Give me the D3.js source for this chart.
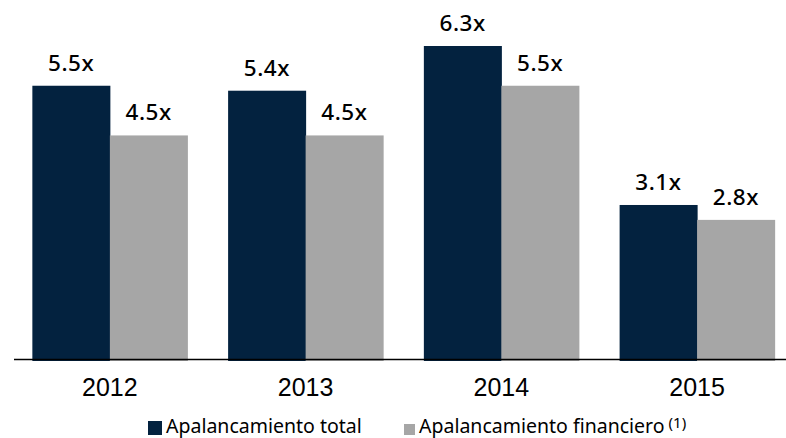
<!DOCTYPE html>
<html><head><meta charset="utf-8">
<script src="https://cdn.jsdelivr.net/npm/d3@7"></script>
<style>html,body{margin:0;padding:0;background:#fff;}svg{display:block;}</style>
</head><body>
<svg id="chart" width="786" height="438"></svg>
<script>
const categories = ["2012", "2013", "2014", "2015"];
const seriesNames = ["Apalancamiento total", "Apalancamiento financiero"];
const totalValues = [5.5, 5.4, 6.3, 3.1];
const financieroValues = [4.5, 4.5, 5.5, 2.8];
const colors = ["#03223f", "#a6a6a6"];

const svg = d3.select("#chart");
const baseY = 359;

const x = d3.scaleBand().domain(categories).range([12, 795]).paddingInner(0.208).paddingOuter(0.104);
const xs = d3.scaleBand().domain([0, 1]).range([0, x.bandwidth()]);
const y = d3.scaleLinear().domain([0, 6.3]).range([baseY, 46]);

const data = categories.map((c, i) => ({cat: c, vals: [totalValues[i], financieroValues[i]]}));

const groups = svg.append("g").selectAll("g.grp").data(data).enter().append("g")
  .attr("transform", d => `translate(${x(d.cat)},0)`);

groups.selectAll("rect").data(d => d.vals).enter().append("rect")
  .attr("x", (v, j) => xs(j))
  .attr("width", xs.bandwidth() + 0.5)
  .attr("y", v => y(v))
  .attr("height", v => baseY - y(v) + 2)
  .attr("fill", (v, j) => colors[j]);

groups.selectAll("text.val").data(d => d.vals).enter().append("text")
  .attr("class", "val")
  .attr("x", (v, j) => xs(j) + xs.bandwidth() / 2)
  .attr("y", v => y(v) - 15)
  .attr("text-anchor", "middle")
  .attr("font-family", "Noto Sans, Open Sans, sans-serif")
  .attr("font-size", 22.5)
  .attr("font-weight", 500)
  .attr("letter-spacing", 0.5)
  .attr("fill", "#000")
  .text(v => d3.format(".1f")(v) + "x");

// axis
const axis = d3.axisBottom(x).tickSize(0).tickPadding(19);
const ag = svg.append("g").attr("transform", `translate(0,${baseY})`).call(axis);
ag.select(".domain").remove();
ag.selectAll("text")
  .attr("font-family", "Liberation Sans, Arial, sans-serif")
  .attr("font-size", 25)
  .attr("fill", "#000")
  .attr("dy", "0.71em");
svg.append("line").attr("x1", 14).attr("x2", 786).attr("y1", baseY + 0.5).attr("y2", baseY + 0.5)
  .attr("stroke", "#000").attr("stroke-width", 1.5);

// legend
const legend = [
  {name: seriesNames[0], color: colors[0], x: 148, size: 14, sup: ""},
  {name: seriesNames[1], color: colors[1], x: 404, size: 11, sup: "(1)"}
];
legend.forEach(l => {
  svg.append("rect").attr("x", l.x).attr("y", 435 - l.size).attr("width", l.size).attr("height", l.size).attr("fill", l.color);
  const t = svg.append("text").attr("x", l.x + l.size + 4).attr("y", 433)
    .attr("font-family", "Noto Sans, Open Sans, sans-serif").attr("font-size", 19.5).attr("fill", "#000")
    .text(l.name);
  if (l.sup) t.append("tspan").attr("dx", 4).attr("dy", -5).attr("font-size", 15).text(l.sup);
});
</script>
</body></html>
